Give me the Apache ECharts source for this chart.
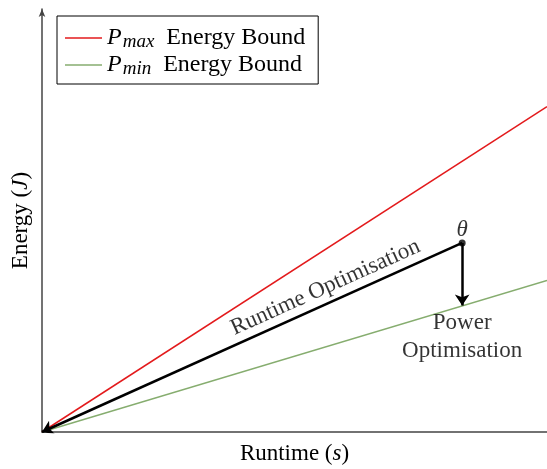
<!DOCTYPE html>
<html>
<head>
<meta charset="utf-8">
<script src="https://cdn.jsdelivr.net/npm/echarts@6/dist/echarts.min.js"></script>
<style>
  html, body { margin: 0; padding: 0; background: #fff; }
  #chart { width: 547px; height: 469px; }
</style>
</head>
<body>
<div id="chart"></div>
<script>
// Energy bounds against runtime, with the two optimisation directions from θ
const seriesNames = ['Pmax', 'Pmin'];
const legendLabels = ['{i|P}{s|max}Energy Bound', '{i|P}{s|min}Energy Bound'];
const runtimeX = [0, 10];
const pMaxEnergy = [0, 7.69];
const pMinEnergy = [0, 3.58];
const thetaPoint = [8.32, 4.47];
const powerTarget = [8.32, 2.99];
const origin = [0, 0];
// where along the runtime arrow (0 = origin, 1 = θ) its caption sits
const runtimeCaptionAt = 0.705;

const FONT = 'Liberation Serif';
const FS = 23;

const chart = echarts.init(document.getElementById('chart'), null, { renderer: 'canvas' });

const richText = {
  i: { fontFamily: FONT, fontSize: 24, fontStyle: 'italic', color: '#000', lineHeight: 26 },
  s: { fontFamily: FONT, fontSize: 19, fontStyle: 'italic', color: '#000', verticalAlign: 'bottom', lineHeight: 13, padding: [0, 12, 0, 1] }
};
const italicRich = { i: { fontFamily: FONT, fontSize: FS, fontStyle: 'italic', color: '#000' } };

const captionPoint = [thetaPoint[0] * runtimeCaptionAt, thetaPoint[1] * runtimeCaptionAt];

function buildOption(captionRotate, captionOffset) {
  return {
    animation: false,
    grid: { left: 42, right: 0, top: 9, bottom: 37, outerBoundsMode: 'none', containLabel: false },
    legend: {
      orient: 'vertical',
      left: 57, top: 16,
      padding: [9, 13, 6, 8],
      itemGap: 1,
      itemWidth: 37, itemHeight: 14,
      borderColor: '#000', borderWidth: 1,
      data: seriesNames.map(n => ({ name: n, icon: 'path://M0,6 L37,6 L37,7.6 L0,7.6 Z' })),
      formatter: name => legendLabels[seriesNames.indexOf(name)],
      textStyle: {
        fontFamily: FONT, fontSize: 24, color: '#000', lineHeight: 26,
        rich: richText
      }
    },
    xAxis: {
      type: 'value', min: runtimeX[0], max: runtimeX[1],
      name: 'Runtime ({i|s})', nameLocation: 'middle', nameGap: 10,
      nameTextStyle: { fontFamily: FONT, fontSize: FS, color: '#000', rich: italicRich },
      axisLine: { lineStyle: { color: '#444', width: 1.5 } },
      axisTick: { show: false }, axisLabel: { show: false }, splitLine: { show: false }
    },
    yAxis: {
      type: 'value', min: 0, max: 10,
      name: 'Energy ({i|J})', nameLocation: 'middle', nameGap: 10,
      nameTextStyle: { fontFamily: FONT, fontSize: FS, color: '#000', rich: italicRich },
      axisLine: { lineStyle: { color: '#444', width: 1.5 }, symbol: ['none', 'arrow'], symbolSize: [5, 8] },
      axisTick: { show: false }, axisLabel: { show: false }, splitLine: { show: false }
    },
    series: [
      {
        name: 'Pmax', type: 'line', symbol: 'none',
        lineStyle: { color: '#e31a1c', width: 1.5 }, itemStyle: { color: '#e31a1c' },
        data: runtimeX.map((x, k) => [x, pMaxEnergy[k]]), z: 2
      },
      {
        name: 'Pmin', type: 'line', symbol: 'none',
        lineStyle: { color: '#86ad6f', width: 1.5 }, itemStyle: { color: '#86ad6f' },
        data: runtimeX.map((x, k) => [x, pMinEnergy[k]]), z: 2
      },
      {
        type: 'lines', coordinateSystem: 'cartesian2d', z: 3,
        symbol: ['none', 'arrow'], symbolSize: 11,
        lineStyle: { color: '#000', width: 2.5, opacity: 1 },
        data: [{ coords: [thetaPoint, origin] }, { coords: [thetaPoint, powerTarget] }]
      },
      {
        type: 'scatter', z: 4, symbol: 'circle', symbolSize: 7,
        itemStyle: { color: '#000' },
        label: {
          show: true, position: 'top', distance: 0, offset: [0, 2],
          formatter: 'θ', fontFamily: FONT, fontSize: FS, fontStyle: 'italic', color: '#000'
        },
        data: [thetaPoint]
      },
      {
        type: 'scatter', z: 4, symbolSize: 0,
        label: {
          show: true, position: 'bottom', distance: 3,
          formatter: 'Power\nOptimisation', fontFamily: FONT, fontSize: FS, lineHeight: 28,
          color: '#000', align: 'center'
        },
        data: [powerTarget]
      },
      {
        type: 'scatter', z: 4, symbolSize: 0,
        label: {
          show: true, position: 'inside', rotate: captionRotate, offset: captionOffset,
          formatter: 'Runtime Optimisation', fontFamily: FONT, fontSize: FS, color: '#000'
        },
        data: [captionPoint]
      }
    ]
  };
}

chart.setOption(buildOption(0, [0, 0]));
// align the caption with the drawn runtime arrow and lift it off the line
const p0 = chart.convertToPixel({ gridIndex: 0 }, origin);
const p1 = chart.convertToPixel({ gridIndex: 0 }, thetaPoint);
const ang = Math.atan2(p0[1] - p1[1], p1[0] - p0[0]);
const lift = 17;
chart.setOption(buildOption(ang * 180 / Math.PI, [-Math.sin(ang) * lift, -Math.cos(ang) * lift]));
</script>
</body>
</html>
